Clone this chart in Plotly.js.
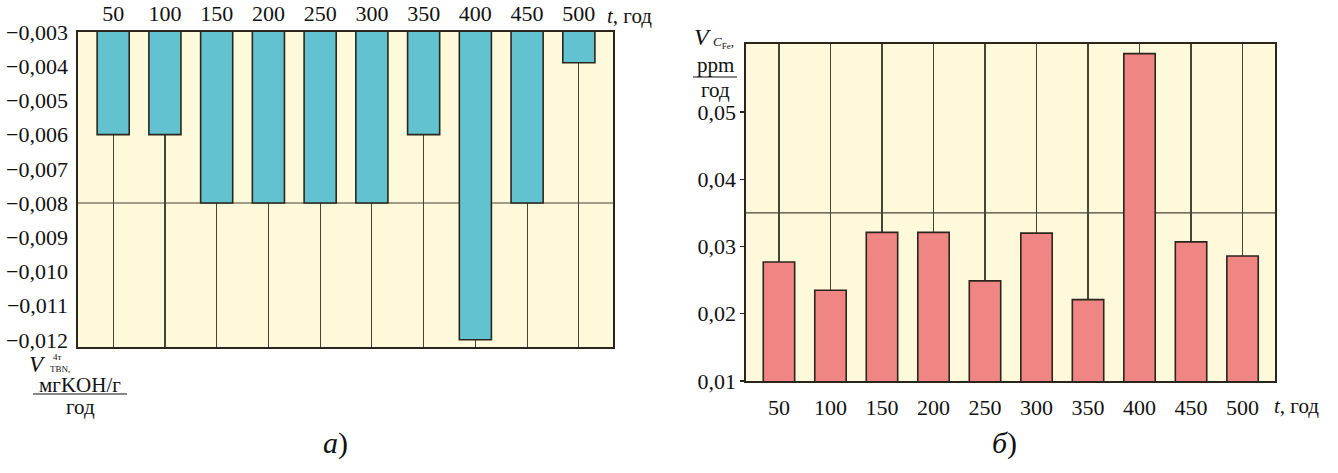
<!DOCTYPE html>
<html>
<head>
<meta charset="utf-8">
<script src="https://cdn.plot.ly/plotly-3.0.1.min.js"></script>
<style>
html,body{margin:0;padding:0;background:#fff;}
#chart{width:1338px;height:473px;}
</style>
</head>
<body>
<div id="chart"></div>
<script>
// ---- data ----
const years = ['50','100','150','200','250','300','350','400','450','500'];
const tbnRate = [-0.006,-0.006,-0.008,-0.008,-0.008,-0.008,-0.006,-0.012,-0.008,-0.0039];
const feRate = [0.0277,0.0235,0.0321,0.0321,0.0249,0.0320,0.0221,0.0587,0.0307,0.0286];
const tbnRef = -0.008;
const feRef = 0.035;
const tbnTicks = [-0.003,-0.004,-0.005,-0.006,-0.007,-0.008,-0.009,-0.010,-0.011,-0.012];
const feTicks = [0.01,0.02,0.03,0.04,0.05];

// ---- style ----
const W = 1338, H = 473;
const px = x => x / W;
const py = y => 1 - y / H;
const FONT = 'Times New Roman, Liberation Serif, Tinos, serif';
const INK = '#2a261c';
const BG = '#fff9dc';
const GRID = '#4a4434';
const TXT = '#111111';

const axisBase = {
  showline: true, mirror: true, linecolor: INK, linewidth: 1.6,
  zeroline: false, fixedrange: true,
  tickfont: {family: FONT, size: 22, color: TXT}
};

const traces = [
  {
    type: 'bar', x: years, y: tbnRate, xaxis: 'x', yaxis: 'y',
    marker: {color: '#63c2d0', line: {color: INK, width: 1.6}},
    width: 0.62, hoverinfo: 'x+y'
  },
  {
    type: 'bar', x: years, y: feRate, xaxis: 'x2', yaxis: 'y2',
    marker: {color: '#f08683', line: {color: INK, width: 1.6}},
    width: 0.61, hoverinfo: 'x+y'
  }
];

function ann(x, y, text, size, xanchor) {
  return {xref: 'paper', yref: 'paper', x: px(x), y: py(y), text: text, showarrow: false,
          xanchor: xanchor || 'center', yanchor: 'middle',
          font: {family: FONT, size: size, color: TXT}};
}

const layout = {
  width: W, height: H,
  margin: {l: 0, r: 0, t: 0, b: 0},
  paper_bgcolor: '#ffffff',
  plot_bgcolor: BG,
  showlegend: false,
  separators: ', ',
  font: {family: FONT, color: TXT},
  xaxis: Object.assign({}, axisBase, {
    domain: [px(78), px(613)], anchor: 'y', side: 'top',
    type: 'category', range: [-0.68, 9.66],
    showgrid: true, gridcolor: GRID, gridwidth: 1.2,
    ticks: '', ticklabelstandoff: 1
  }),
  yaxis: Object.assign({}, axisBase, {
    domain: [py(347), py(32)], anchor: 'x',
    range: [-0.01221, -0.003], showgrid: false,
    tickvals: tbnTicks, tickformat: '.3f', ticks: '', ticklabelstandoff: 4
  }),
  xaxis2: Object.assign({}, axisBase, {
    domain: [px(746), px(1275)], anchor: 'y2', side: 'bottom',
    type: 'category', range: [-0.64, 9.63],
    showgrid: true, gridcolor: GRID, gridwidth: 1.2,
    ticks: '', ticklabelstandoff: 6
  }),
  yaxis2: Object.assign({}, axisBase, {
    domain: [py(381), py(43.5)], anchor: 'x2',
    range: [0.01, 0.0602], showgrid: false,
    tickvals: feTicks, tickformat: '.2f', ticks: 'outside', ticklen: 4,
    tickcolor: INK, tickwidth: 1.2
  }),
  shapes: [
    {type: 'line', layer: 'below', xref: 'x domain', yref: 'y', x0: 0, x1: 1, y0: tbnRef, y1: tbnRef,
     line: {color: GRID, width: 1.2}},
    {type: 'line', layer: 'below', xref: 'x2 domain', yref: 'y2', x0: 0, x1: 1, y0: feRef, y1: feRef,
     line: {color: GRID, width: 1.2}},
    // fraction bars of the axis titles
    {type: 'line', xref: 'paper', yref: 'paper', x0: px(33), x1: px(127), y0: py(394), y1: py(394),
     line: {color: TXT, width: 1.2}},
    {type: 'line', xref: 'paper', yref: 'paper', x0: px(693), x1: px(737), y0: py(77), y1: py(77),
     line: {color: TXT, width: 1.2}}
  ],
  annotations: [
    // left axis title
    ann(48, 364, '<i>V</i>', 23, 'right'),
    ann(51, 357, '4т', 9, 'left'),
    ann(48, 369, 'TBN,', 9, 'left'),
    ann(80, 385, 'мгKOH/г', 21),
    ann(80, 407, 'год', 21),
    // left t label
    ann(605, 16, '<i>t</i>, год', 21, 'left'),
    // right axis title
    ann(713, 37, '<i>V</i>', 24, 'right'),
    ann(711, 42, '<i>C</i><sub>Fe</sub>,', 13, 'left'),
    ann(715, 65, 'ppm', 21),
    ann(715, 90, 'год', 21),
    // right t label
    ann(1272, 406, '<i>t</i>, год', 21, 'left'),
    // panel letters
    ann(335, 443, '<i>а</i>)', 30),
    ann(1005, 443, '<i>б</i>)', 30)
  ]
};

Plotly.newPlot('chart', traces, layout, {staticPlot: true, displayModeBar: false});
</script>
</body>
</html>
